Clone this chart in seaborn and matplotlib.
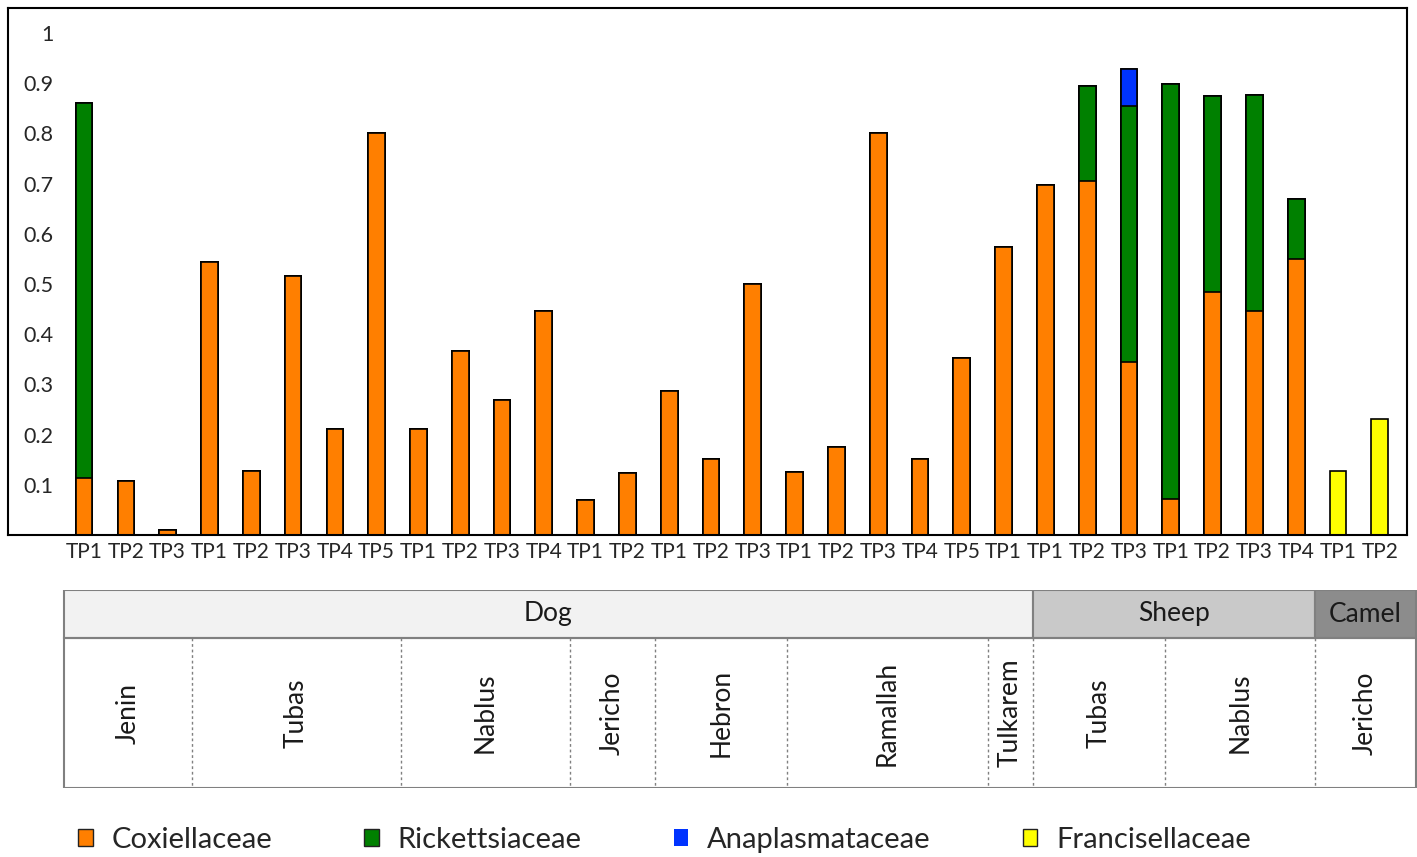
import numpy as np
import pandas as pd
import matplotlib
matplotlib.use("Agg")
import matplotlib.pyplot as plt
import seaborn as sns
from matplotlib.patches import Patch, Rectangle

# bar labels (time points) in plotting order
tp_labels = ["TP1", "TP2", "TP3",
             "TP1", "TP2", "TP3", "TP4", "TP5",
             "TP1", "TP2", "TP3", "TP4",
             "TP1", "TP2",
             "TP1", "TP2", "TP3",
             "TP1", "TP2", "TP3", "TP4", "TP5",
             "TP1",
             "TP1", "TP2", "TP3",
             "TP1", "TP2", "TP3", "TP4",
             "TP1", "TP2"]

# relative abundance per family
coxiellaceae = [0.113, 0.107, 0.010, 0.544, 0.127, 0.517, 0.211, 0.801,
                0.211, 0.366, 0.269, 0.446, 0.070, 0.123, 0.286, 0.151,
                0.500, 0.126, 0.176, 0.801, 0.151, 0.352, 0.574, 0.698,
                0.705, 0.345, 0.072, 0.485, 0.446, 0.549, 0.0, 0.0]
rickettsiaceae = [0.747, 0, 0, 0, 0, 0, 0, 0,
                  0, 0, 0, 0, 0, 0, 0, 0,
                  0, 0, 0, 0, 0, 0, 0, 0,
                  0.190, 0.510, 0.826, 0.389, 0.430, 0.120, 0, 0]
anaplasmataceae = [0] * 25 + [0.074] + [0] * 6
francisellaceae = [0] * 30 + [0.128, 0.231]

# table groups
hosts = ["Dog", "Sheep", "Camel"]
host_locations = [7, 2, 1]  # number of locations under each host
locations = ["Jenin", "Tubas", "Nablus", "Jericho", "Hebron", "Ramallah",
             "Tulkarem", "Tubas", "Nablus", "Jericho"]

families = ["Coxiellaceae", "Rickettsiaceae", "Anaplasmataceae", "Francisellaceae"]
colors = ["#FF7F00", "#008000", "#0033FF", "#FFFF00"]
host_colors = ["#F2F2F2", "#C9C9C9", "#8C8C8C"]

# table cell edges in pixels (layout of the original table)
cell_edges = [64, 192, 401, 570, 655, 787, 988, 1033, 1165, 1315, 1416]

sns.set_style("white")
plt.rcParams["font.family"] = ["Lato", "DejaVu Sans"]

W, H = 1417, 857
fig = plt.figure(figsize=(W / 100, H / 100), dpi=100)

def px_axes(x0, y0, x1, y1):
    return fig.add_axes([x0 / W, 1 - y1 / H, (x1 - x0) / W, (y1 - y0) / H])

ax = px_axes(8, 8, 1407, 535)

df = pd.DataFrame({
    "pos": np.arange(len(tp_labels)),
    "c1": coxiellaceae,
    "r": rickettsiaceae,
    "a": anaplasmataceae,
    "f": francisellaceae,
})
df["c2"] = df["c1"] + df["r"]
df["c3"] = df["c2"] + df["a"]
df["c4"] = df["c3"] + df["f"]

# overlay cumulative sums from top layer down
for col, color in zip(["c4", "c3", "c2", "c1"], colors[::-1]):
    sns.barplot(data=df, x="pos", y=col, color=color, width=0.4,
                edgecolor="black", linewidth=1.2, saturation=1,
                errorbar=None, ax=ax)

ax.set_xlim(-1.82, 31.65)
ax.set_ylim(0, 1.05)
ax.set_xlabel("")
ax.set_ylabel("")
ax.set_xticks(range(len(tp_labels)))
ax.set_xticklabels(tp_labels, fontsize=15)
yt = [0.1, 0.2, 0.3, 0.4, 0.5, 0.6, 0.7, 0.8, 0.9, 1.0]
ax.set_yticks(yt)
ax.set_yticklabels(["0.1", "0.2", "0.3", "0.4", "0.5", "0.6", "0.7", "0.8", "0.9", "1"],
                   fontsize=15.5)
ax.tick_params(axis="y", length=0, pad=-33)
ax.tick_params(axis="x", length=0, pad=5)
for s in ax.spines.values():
    s.set_visible(True)
    s.set_color("black")
    s.set_linewidth(1.5)

# table under the chart (pixel coordinates)
tax = px_axes(0, 590, W, 788)
tax.set_xlim(0, W)
tax.set_ylim(198, 0)
tax.axis("off")
head = 48
edge = "#808080"
k = 0
for name, n, hc in zip(hosts, host_locations, host_colors):
    x0, x1 = cell_edges[k], cell_edges[k + n]
    tax.add_patch(Rectangle((x0, 0), x1 - x0, head, facecolor=hc,
                            edgecolor=edge, linewidth=1.5))
    tax.text((x0 + x1) / 2, head / 2, name, ha="center", va="center",
             fontsize=19, color="#1a1a1a")
    k += n
tax.add_patch(Rectangle((cell_edges[0], head), cell_edges[-1] - cell_edges[0],
                        198 - head, facecolor="none", edgecolor=edge, linewidth=1.5))
for i, name in enumerate(locations):
    x0, x1 = cell_edges[i], cell_edges[i + 1]
    if i > 0:
        tax.plot([x0, x0], [head, 198], color=edge, linewidth=1,
                 linestyle=(0, (2, 2)))
    tax.text((x0 + x1) / 2, (head + 198) / 2, name, ha="center", va="center",
             rotation=90, fontsize=19, color="#1a1a1a")

# legend
handles = [Patch(facecolor=c, edgecolor=("none" if c == "#0033FF" else "#222222"),
                 linewidth=1) for c in colors]
fig.legend(handles, families, loc="center left", bbox_to_anchor=(78 / W, 1 - 840 / H),
           ncol=4, frameon=False, fontsize=21, handlelength=0.5,
           handleheight=0.5, handletextpad=0.65, columnspacing=3.15,
           borderaxespad=0, borderpad=0)

fig.savefig("out.png", dpi=100)
